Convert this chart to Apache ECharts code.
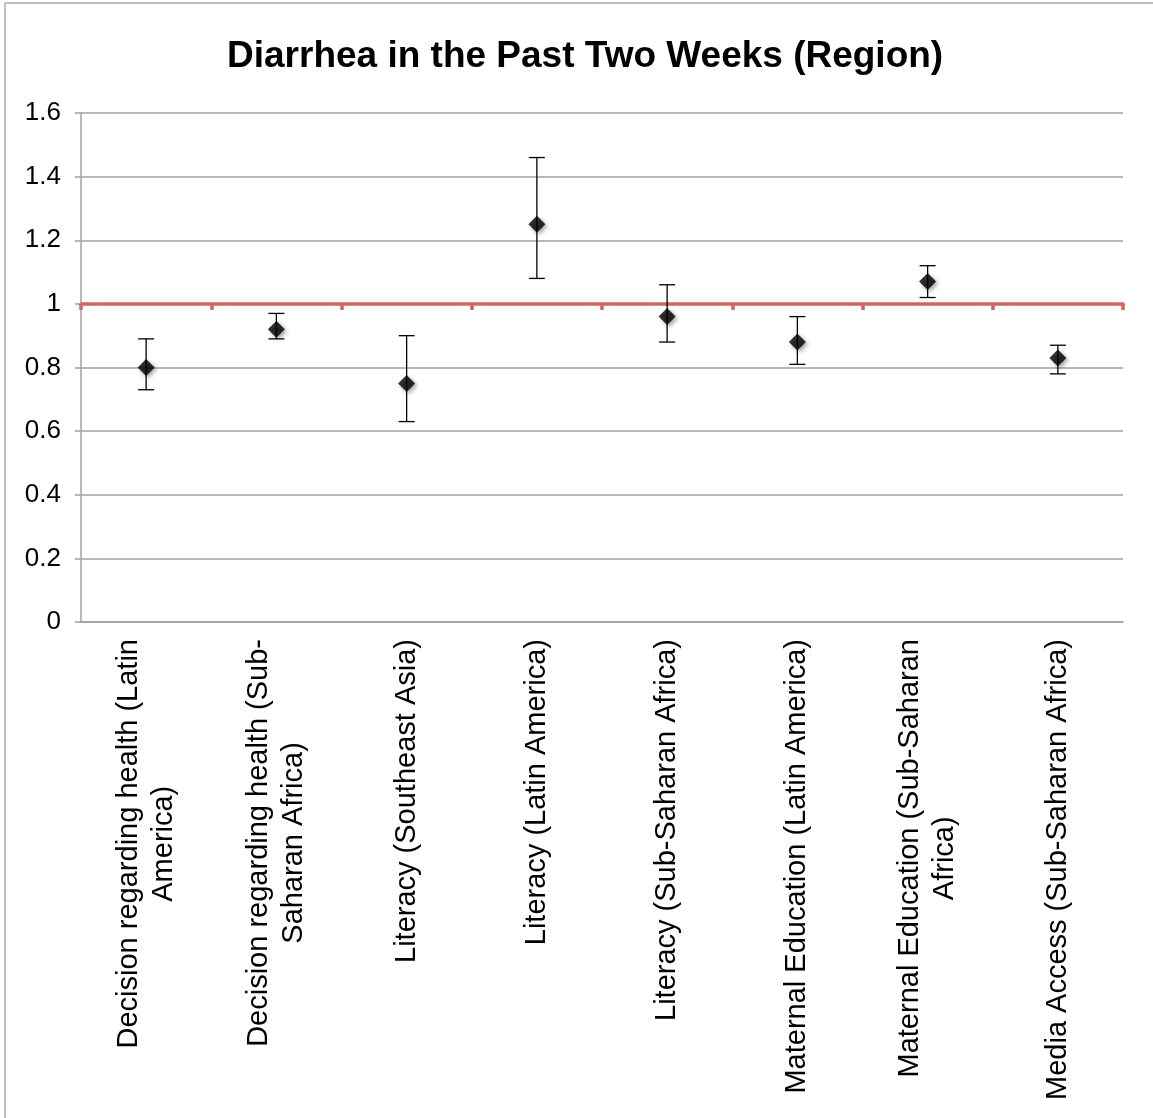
<!DOCTYPE html>
<html><head><meta charset="utf-8">
<script src="https://cdn.jsdelivr.net/npm/echarts@6/dist/echarts.min.js"></script>
<style>html,body{margin:0;padding:0;background:#fff}#c{width:1153px;height:1118px}</style>
</head><body><div id="c"></div>
<script>
const titleText = 'Diarrhea in the Past Two Weeks (Region)';
const categories = [
  'Decision regarding health (Latin America)',
  'Decision regarding health (Sub-Saharan Africa)',
  'Literacy (Southeast Asia)',
  'Literacy (Latin America)',
  'Literacy (Sub-Saharan Africa)',
  'Maternal Education (Latin America)',
  'Maternal Education (Sub-Saharan Africa)',
  'Media Access (Sub-Saharan Africa)'
];
const pointValues = [0.80, 0.92, 0.75, 1.25, 0.96, 0.88, 1.07, 0.83];
const lowerValues = [0.73, 0.89, 0.63, 1.08, 0.88, 0.81, 1.02, 0.78];
const upperValues = [0.89, 0.97, 0.90, 1.46, 1.06, 0.96, 1.12, 0.87];
const referenceValue = 1;
const yMin = 0, yMax = 1.6, yInterval = 0.2;

const FONT = '"Liberation Sans", Arial, Helvetica, sans-serif';
const grid = { left: 81, right: 30, top: 113, bottom: 496 };
const gridHeight = 1118 - grid.top - grid.bottom;

const ctx = document.createElement('canvas').getContext('2d');
ctx.font = '29px ' + FONT;
function wrap(s, maxW) {
  const parts = s.match(/[^ -]+[ -]?|[ -]/g);
  const lines = []; let cur = '';
  parts.forEach(p => {
    const t = cur + p;
    if (cur && ctx.measureText(t.trimEnd()).width > maxW) { lines.push(cur.trimEnd()); cur = p; }
    else cur = t;
  });
  lines.push(cur.trimEnd());
  return lines;
}

const chart = echarts.init(document.getElementById('c'), null, { renderer: 'canvas' });
chart.setOption({
  backgroundColor: '#fff',
  animation: false,
  title: {
    text: titleText, left: 222, top: 33,
    textStyle: { fontFamily: FONT, fontSize: 37, fontWeight: 'bold', color: '#000' }
  },
  graphic: [{
    type: 'rect', shape: { x: 5, y: 3, width: 1200, height: 1200 },
    style: { fill: 'none', stroke: '#aaaaaa', lineWidth: 1.5 }, silent: true
  }],
  grid: Object.assign({ outerBoundsMode: 'none' }, grid),
  xAxis: [{
    type: 'category', data: categories, boundaryGap: true,
    axisLine: { show: true, lineStyle: { color: '#a0a0a0', width: 1.5 } },
    axisTick: { show: false },
    splitLine: { show: false },
    axisLabel: {
      interval: 0, rotate: 90, margin: 17, color: '#000',
      fontFamily: FONT, fontSize: 29,
      formatter: v => wrap(v, 470).map(l => '{c|' + l + '}').join('\n'),
      rich: { c: { align: 'center', fontFamily: FONT, fontSize: 29, lineHeight: 35, color: '#000' } }
    }
  }, {
    type: 'category', data: categories, boundaryGap: true, position: 'bottom',
    offset: -gridHeight * (referenceValue - yMin) / (yMax - yMin),
    axisLine: { show: true, lineStyle: { color: '#d0675f', width: 3.5 } },
    axisTick: { show: true, interval: 0, length: 6, lineStyle: { color: '#d0675f', width: 3.5 } },
    axisLabel: { show: false, interval: 0 }, splitLine: { show: false }
  }],
  yAxis: {
    type: 'value', min: yMin, max: yMax, interval: yInterval,
    axisLine: { show: true, lineStyle: { color: '#a0a0a0', width: 1.5 } },
    axisTick: { show: true, length: 6, lineStyle: { color: '#a0a0a0', width: 1.5 } },
    splitLine: { show: true, lineStyle: { color: '#a0a0a0', width: 1.5 } },
    axisLabel: { margin: 20, color: '#000', fontFamily: FONT, fontSize: 26 }
  },
  series: [{
    type: 'custom', z: 3, xAxisIndex: 0,
    data: categories.map((c, i) => [i, lowerValues[i], upperValues[i]]),
    encode: { x: 0, y: [1, 2] },
    renderItem: (params, api) => {
      const i = api.value(0);
      const lo = api.coord([i, api.value(1)]);
      const hi = api.coord([i, api.value(2)]);
      const w = 8;
      const st = { stroke: '#000', lineWidth: 1.3 };
      return { type: 'group', children: [
        { type: 'line', shape: { x1: lo[0], y1: lo[1], x2: hi[0], y2: hi[1] }, style: st },
        { type: 'line', shape: { x1: lo[0] - w, y1: lo[1], x2: lo[0] + w, y2: lo[1] }, style: st },
        { type: 'line', shape: { x1: hi[0] - w, y1: hi[1], x2: hi[0] + w, y2: hi[1] }, style: st }
      ] };
    }
  }, {
    type: 'scatter', z: 4, xAxisIndex: 0,
    data: pointValues, symbol: 'diamond', symbolSize: 17,
    itemStyle: { color: '#000', shadowColor: 'rgba(0,0,0,0.45)', shadowBlur: 4, shadowOffsetX: 2, shadowOffsetY: 2 }
  }]
});
</script></body></html>
